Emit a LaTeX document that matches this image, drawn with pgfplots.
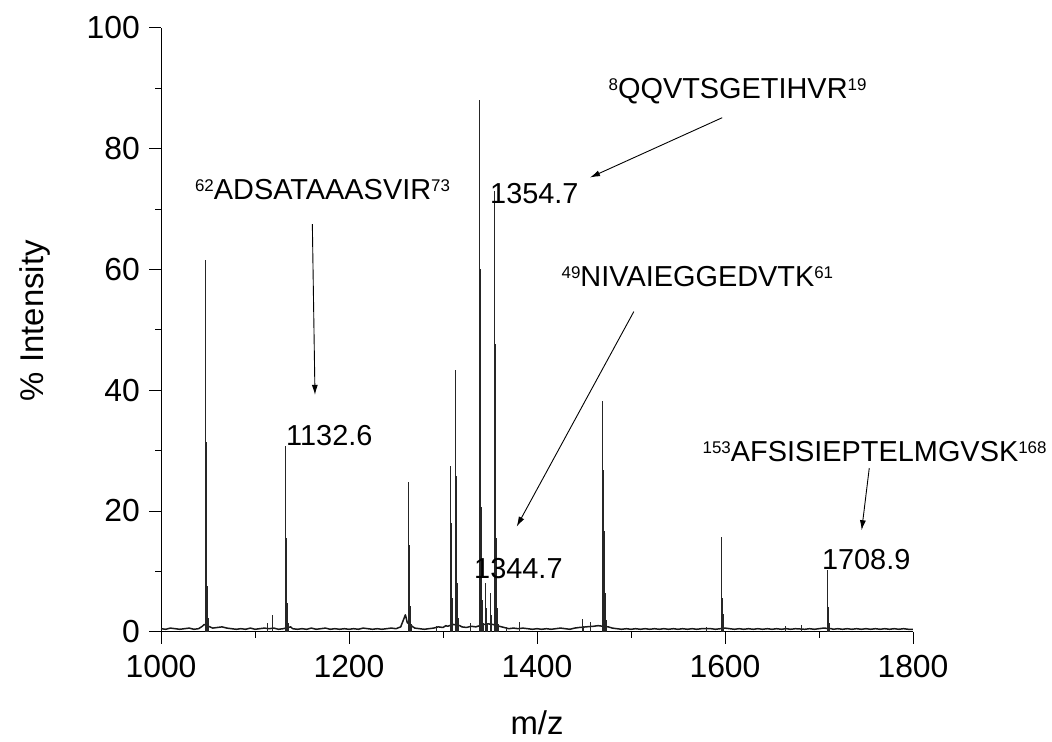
\documentclass[border=0pt]{standalone}
\usepackage{fontspec}
\setmainfont{Liberation Sans}
\usepackage{pgfplots}
\pgfplotsset{compat=1.18}
\usetikzlibrary{arrows.meta}

% isotope envelopes of the digest peaks (m/z, % intensity)
\pgfplotstableread{
mz      int
1047.1  61.5
1048.1  31.4
1049.1  7.5
1050.1  2.2
1112.8  1.5
1118.8  2.8
1132.6  30.7
1133.6  15.5
1134.6  4.7
1135.6  1.4
1263.5  24.8
1264.5  14.4
1265.5  4.2
1266.5  1.3
1293.3  1.0
1307.4  27.5
1308.4  18.0
1309.4  5.5
1310.4  1.6
1313.1  43.4
1314.1  25.8
1315.1  8.0
1316.1  2.2
1328.7  1.5
1338.6  88.0
1339.6  60.0
1340.6  20.7
1341.6  5.2
1342.6  1.4
1344.7  8.0
1345.7  4.0
1346.7  1.4
1350.6  6.4
1351.6  2.8
1354.7  73.0
1355.7  47.7
1356.7  15.5
1357.7  4.0
1358.7  1.2
1367.0  0.8
1381.5  1.6
1448.4  2.1
1449.4  1.0
1456.4  1.6
1469.9  38.2
1470.9  26.8
1471.9  16.6
1472.9  6.4
1473.9  2.0
1580.5  0.8
1595.7  15.7
1596.7  5.5
1597.7  3.0
1598.7  1.0
1663.8  1.0
1680.9  1.1
1708.9  10.2
1709.9  4.1
1710.9  1.5
}\peaks

% chemical noise baseline
\pgfplotstableread{
mz    int
1000  0.5
1005  0.4
1010  0.6
1015  0.5
1020  0.4
1025  0.5
1030  0.6
1035  0.4
1040  0.5
1044  0.9
1046  1.2
1052  0.8
1055  0.6
1060  0.7
1065  0.8
1070  0.6
1075  0.5
1080  0.4
1085  0.5
1090  0.4
1095  0.6
1100  0.4
1105  0.5
1110  0.6
1115  0.5
1120  0.6
1125  0.4
1130  0.5
1138  0.8
1140  0.5
1145  0.4
1150  0.5
1155  0.4
1160  0.6
1165  0.4
1170  0.5
1175  0.6
1180  0.4
1185  0.5
1190  0.4
1195  0.5
1200  0.4
1205  0.5
1210  0.4
1215  0.6
1220  0.5
1225  0.4
1230  0.5
1235  0.4
1240  0.5
1245  0.6
1250  0.5
1255  0.8
1258  2.0
1260  2.8
1262  1.5
1268  0.8
1270  0.6
1275  0.5
1280  0.4
1285  0.5
1290  0.6
1295  0.8
1300  0.7
1303  1.0
1305  0.9
1311  1.2
1318  1.0
1320  0.8
1325  0.7
1330  0.9
1335  0.8
1343  1.2
1348  1.3
1353  1.2
1360  0.9
1365  0.7
1370  0.5
1375  0.6
1380  0.5
1385  0.6
1390  0.5
1395  0.4
1400  0.5
1405  0.4
1410  0.5
1415  0.4
1420  0.5
1425  0.6
1430  0.5
1435  0.4
1440  0.6
1445  0.7
1452  0.8
1460  0.9
1465  1.0
1476  0.8
1480  0.6
1485  0.5
1490  0.4
1495  0.5
1500  0.4
1505  0.5
1510  0.4
1515  0.5
1520  0.4
1525  0.5
1530  0.4
1535  0.5
1540  0.4
1545  0.5
1550  0.4
1555  0.5
1560  0.4
1565  0.5
1570  0.4
1575  0.5
1585  0.5
1590  0.4
1600  0.6
1605  0.5
1610  0.4
1615  0.5
1620  0.4
1625  0.5
1630  0.4
1635  0.5
1640  0.4
1645  0.5
1650  0.4
1655  0.5
1660  0.4
1665  0.5
1670  0.4
1675  0.5
1685  0.4
1690  0.5
1695  0.4
1700  0.5
1705  0.6
1713  0.5
1715  0.4
1720  0.5
1725  0.4
1730  0.5
1735  0.4
1740  0.5
1745  0.4
1750  0.5
1755  0.4
1760  0.5
1765  0.4
1770  0.5
1775  0.4
1780  0.5
1785  0.4
1790  0.5
1795  0.4
1800  0.4
}\baseline

\newcommand\annfont{\fontsize{29}{34}\selectfont}
% residue numbers set small and raised next to the sequence
\newcommand\res[1]{\raisebox{8bp}{\fontsize{17}{19}\selectfont #1}}

\begin{document}
\begin{tikzpicture}
\begin{axis}[
  scale only axis, width=752bp, height=604bp,
  xmin=1000, xmax=1800, ymin=0, ymax=100,
  axis x line*=bottom, axis y line*=left,
  axis line style={-, line width=0.9bp, black},
  tick align=outside, major tick length=12bp, minor tick length=6bp,
  tick style={line width=0.8bp, black},
  xtick={1000,1200,...,1800}, ytick={0,20,...,100},
  minor x tick num=1, minor y tick num=1,
  scaled x ticks=false,
  /pgf/number format/1000 sep={},
  /pgf/number format/assume math mode=true,
  ticklabel style={font=\fontsize{32}{36}\selectfont},
  xticklabel style={inner sep=0pt, anchor=north, yshift=-11bp},
  yticklabel style={inner sep=0pt, anchor=east, xshift=-9bp},
  xlabel={m/z}, ylabel={\% Intensity},
  label style={font=\fontsize{33}{38}\selectfont},
  xlabel style={at={(axis description cs:0.5,0)}, anchor=base, yshift=-103bp, inner sep=0pt},
  ylabel style={at={(axis description cs:-0.1569,0.515)}, anchor=base, inner sep=0pt},
  clip=false,
]
\addplot[black!90, line width=1.5bp, line join=round] table[x=mz, y=int] {\baseline};
\addplot[ycomb, black!85, line width=0.6bp] table[x=mz, y=int] {\peaks};

% peptide assignments
\node[anchor=base west, inner sep=0pt, font=\annfont] at (axis cs:1036,71.5)
  {\res{62}ADSATAAASVIR\res{73}};
\draw[line width=0.9bp, -{Latex[length=10bp,width=6bp]}] (axis cs:1161,67.5) -- (axis cs:1163.8,39.2);
\node[anchor=base west, inner sep=0pt, font=\annfont] at (axis cs:1133,30.8) {1132.6};

\node[anchor=base west, inner sep=0pt, font=\annfont] at (axis cs:1476,88.2)
  {\res{8}QQVTSGETIHVR\res{19}};
\draw[line width=0.9bp, -{Latex[length=10bp,width=6bp]}] (axis cs:1597,85.1) -- (axis cs:1456.4,75.2);
\node[anchor=base west, inner sep=0pt, font=\annfont] at (axis cs:1350,70.9) {1354.7};

\node[anchor=base west, inner sep=0pt, font=\annfont] at (axis cs:1426,57.1)
  {\res{49}NIVAIEGGEDVTK\res{61}};
\draw[line width=0.9bp, -{Latex[length=10bp,width=6bp]}] (axis cs:1503,53) -- (axis cs:1378.4,17.4);
\node[anchor=base west, inner sep=0pt, font=\annfont] at (axis cs:1333,8.8) {1344.7};

\node[anchor=base west, inner sep=0pt, font=\annfont] at (axis cs:1576,28.1)
  {\res{153}AFSISIEPTELMGVSK\res{168}};
\draw[line width=0.9bp, -{Latex[length=10bp,width=6bp]}] (axis cs:1753.5,27.1) -- (axis cs:1745.4,16.8);
\node[anchor=base west, inner sep=0pt, font=\annfont] at (axis cs:1703,10.3) {1708.9};

\coordinate (frameSW) at (axis cs:828.7,-18.1);
\coordinate (frameNE) at (axis cs:1947.9,104.59);
\end{axis}
\pgfresetboundingbox
\path (frameSW) rectangle (frameNE);
\end{tikzpicture}
\end{document}
